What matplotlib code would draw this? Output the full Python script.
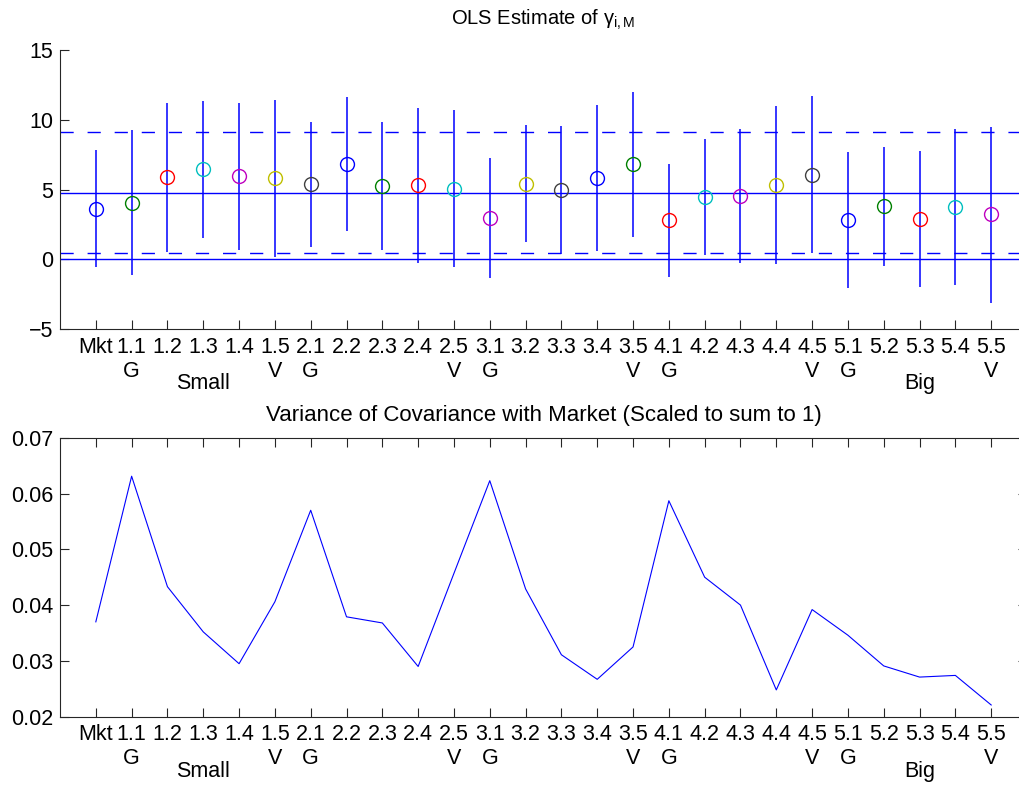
# ================================
# OLS gamma estimates + covariance shares
# ================================

import numpy as np
import matplotlib
matplotlib.use("Agg")
import matplotlib.pyplot as plt

plt.rcParams["font.family"] = ["Liberation Sans", "DejaVu Sans"]
plt.rcParams["mathtext.fontset"] = "custom"
plt.rcParams["mathtext.rm"] = "Liberation Sans"
plt.rcParams["mathtext.it"] = "Liberation Sans"
plt.rcParams["mathtext.default"] = "regular"

# ================================
# 1. Datos
# ================================

labels = ["Mkt", "1.1", "1.2", "1.3", "1.4", "1.5", "2.1", "2.2", "2.3", "2.4",
          "2.5", "3.1", "3.2", "3.3", "3.4", "3.5", "4.1", "4.2", "4.3", "4.4",
          "4.5", "5.1", "5.2", "5.3", "5.4", "5.5"]

style_labels = ["", "G", "", "", "", "V", "G", "", "", "", "V", "G", "", "",
                "", "V", "G", "", "", "", "V", "G", "", "", "", "V"]

size_labels = ["", "", "", "Small", "", "", "", "", "", "", "", "", "", "",
               "", "", "", "", "", "", "", "", "", "Big", "", ""]

gamma_est = [3.64, 4.07, 5.90, 6.45, 5.98, 5.83, 5.38, 6.81, 5.29, 5.31,
             5.07, 2.98, 5.43, 4.98, 5.83, 6.81, 2.81, 4.50, 4.57, 5.36,
             6.07, 2.81, 3.83, 2.88, 3.76, 3.24]

gamma_hi = [7.81, 9.29, 11.24, 11.36, 11.24, 11.45, 9.83, 11.62, 9.81, 10.88,
            10.69, 7.26, 9.62, 9.57, 11.05, 12.02, 6.86, 8.64, 9.33, 11.00,
            11.69, 7.67, 8.07, 7.76, 9.33, 9.52]

gamma_lo = [-0.55, -1.14, 0.55, 1.55, 0.71, 0.19, 0.88, 2.02, 0.69, -0.24,
            -0.55, -1.33, 1.26, 0.36, 0.60, 1.60, -1.26, 0.33, -0.24, -0.33,
            0.43, -2.02, -0.45, -2.00, -1.86, -3.10]

gamma_mean = 4.79
gamma_band = [9.12, 0.43]

cov_share = [0.0370, 0.0631, 0.0433, 0.0352, 0.0295, 0.0406, 0.0570, 0.0379,
             0.0368, 0.0290, 0.0457, 0.0623, 0.0429, 0.0311, 0.0267, 0.0325,
             0.0587, 0.0450, 0.0400, 0.0248, 0.0392, 0.0346, 0.0291, 0.0271,
             0.0274, 0.0221]

# colores de MATLAB (orden antiguo)
colores = ["#0000ff", "#008000", "#ff0000", "#00bfbf", "#bf00bf", "#bfbf00", "#404040"]

x = np.arange(1, len(labels) + 1)

fig = plt.figure(figsize=(10.2, 7.9), dpi=100)
W, H = 1020.0, 790.0
fs = 15.5


def estilo_ejes(ax):
    ax.tick_params(direction="in", length=6.5, width=0.8, color="#262626",
                   labelsize=fs, labelcolor="black", pad=5)
    ax.tick_params(axis="x", pad=5.5)
    for s in ax.spines.values():
        s.set_color("#262626")
        s.set_linewidth(0.8)
    ax.set_xlim(0, 27)
    ax.set_xticks(x)
    ax.set_xticklabels(labels)
    for xi, s1, s2 in zip(x, style_labels, size_labels):
        if s1:
            ax.annotate(s1, (xi, 0), xycoords=("data", "axes fraction"),
                        xytext=(0, -22.5), textcoords="offset points",
                        ha="center", va="top", fontsize=fs)
        if s2:
            ax.annotate(s2, (xi, 0), xycoords=("data", "axes fraction"),
                        xytext=(0, -31.7), textcoords="offset points",
                        ha="center", va="top", fontsize=fs)


# ================================
# 2. Panel superior: estimaciones OLS
# ================================

ax1 = fig.add_axes([60 / W, 1 - 329.3 / H, 967 / W, 279.3 / H])
estilo_ejes(ax1)
ax1.spines["top"].set_visible(False)
ax1.spines["right"].set_visible(False)
ax1.tick_params(top=False, right=False)

ax1.axhline(gamma_mean, color="blue", lw=1.0)
for b in gamma_band:
    ax1.axhline(b, color="blue", lw=1.0, dashes=(9.5, 10))
ax1.axhline(0, color="blue", lw=1.0)

ax1.vlines(x, gamma_lo, gamma_hi, color="blue", lw=1.1)
for i in range(len(x)):
    ax1.plot(x[i], gamma_est[i], "o", mfc="none", mec=colores[i % 7],
             ms=10, mew=1.0)

ax1.set_ylim(-5, 15)
ax1.set_yticks([-5, 0, 5, 10, 15])
ax1.set_title(r"OLS Estimate of $\gamma_{i,M}$", fontsize=14.5, pad=18)

# ================================
# 3. Panel inferior: covarianza con el mercado
# ================================

ax2 = fig.add_axes([60 / W, 1 - 716.7 / H, 967 / W, 279 / H])
estilo_ejes(ax2)
ax2.tick_params(top=True, right=True)

ax2.plot(x, cov_share, color="blue", lw=0.8)
ax2.set_ylim(0.02, 0.07)
ax2.set_yticks([0.02, 0.03, 0.04, 0.05, 0.06, 0.07])
ax2.set_yticklabels(["0.02", "0.03", "0.04", "0.05", "0.06", "0.07"])
ax2.set_title("Variance of Covariance with Market (Scaled to sum to 1)",
              fontsize=16, pad=12)

fig.savefig("out.png", dpi=100)
